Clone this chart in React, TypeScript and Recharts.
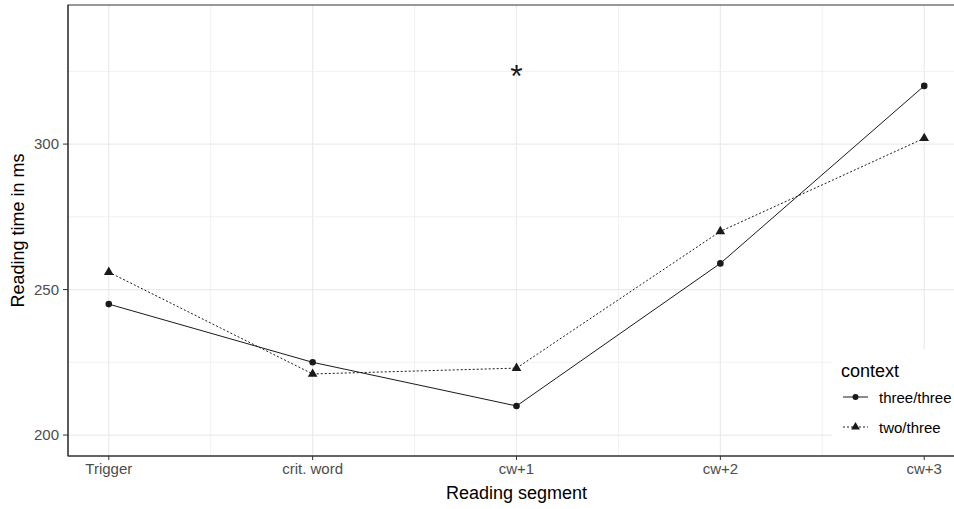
import React from 'react';
import {
  LineChart,
  Line,
  XAxis,
  YAxis,
  CartesianGrid,
  ReferenceArea,
  ReferenceDot,
  Symbols,
} from 'recharts';

const segments = ['Trigger', 'crit. word', 'cw+1', 'cw+2', 'cw+3'];
const threeThree = [245, 225, 210, 259, 320];
const twoThree = [256, 221, 223, 270, 302];
const yTicks = [200, 250, 300];
const yMinor = [225, 275, 325];
const seriesNames = ['three/three', 'two/three'];
const starSegment = 'cw+1';
const starValue = 325;

const xDomain: [number, number] = [0.8, 5.2];
const yDomain: [number, number] = [192.8, 347.8];

const data = segments.map((seg, i) => ({
  pos: i + 1,
  seg,
  three: threeThree[i],
  two: twoThree[i],
}));

const xTicks = segments.map((_, i) => i + 1);
const xMinor = segments.slice(1).map((_, i) => i + 1.5);

const FONT = '"Liberation Sans", Arial, sans-serif';
const INK = '#1a1a1a';

const Triangle = (props: any) => {
  const { cx, cy } = props;
  if (cx == null || cy == null) return null;
  return <Symbols cx={cx} cy={cy} type="triangle" size={40} fill={INK} stroke="none" />;
};

const Circle = (props: any) => {
  const { cx, cy } = props;
  if (cx == null || cy == null) return null;
  return <circle cx={cx} cy={cy} r={3.3} fill={INK} stroke="none" />;
};

const LegendBox = () => (
  <div
    style={{
      position: 'absolute',
      left: 832,
      top: 350,
      width: 130,
      height: 105,
      paddingLeft: 9,
      boxSizing: 'border-box',
      background: 'white',
      fontFamily: FONT,
    }}
  >
    <div style={{ fontSize: 18, color: '#000', paddingTop: 10, lineHeight: '22px' }}>context</div>
    {seriesNames.map((name, i) => (
      <div key={name} style={{ display: 'flex', alignItems: 'center', height: 30, marginTop: i === 0 ? 0 : 0 }}>
        <svg width={28} height={20} style={{ marginLeft: 1 }}>
          <line x1={1} x2={26} y1={10} y2={10} stroke={INK} strokeWidth={1} strokeDasharray={i === 1 ? '2 2' : undefined} />
          {i === 1 ? (
            <Symbols cx={13.5} cy={10} type="triangle" size={34} fill={INK} />
          ) : (
            <circle cx={13.5} cy={10} r={3} fill={INK} />
          )}
        </svg>
        <span style={{ fontSize: 15, color: '#000', marginLeft: 9, whiteSpace: 'nowrap' }}>{name}</span>
      </div>
    ))}
  </div>
);

const StarLabel = (props: any) => {
  const { viewBox } = props;
  const cx = viewBox.x + (viewBox.width || 0) / 2;
  const cy = viewBox.y + (viewBox.height || 0) / 2;
  return (
    <text x={cx} y={cy + 16} textAnchor="middle" fontSize={32} fontFamily={FONT} fill={INK}>
      *
    </text>
  );
};

const YTitle = (props: any) => {
  const { viewBox } = props;
  const x = viewBox.x + 18;
  const y = viewBox.y + viewBox.height / 2;
  return (
    <text x={x} y={y} textAnchor="middle" dominantBaseline="central" transform={`rotate(-90 ${x} ${y})`} fontSize={18} fontFamily={FONT} fill="#000">
      Reading time in ms
    </text>
  );
};

const XTitle = (props: any) => {
  const { viewBox } = props;
  const x = viewBox.x + viewBox.width / 2;
  const y = viewBox.y + 37;
  return (
    <text x={x} y={y} textAnchor="middle" dominantBaseline="central" fontSize={18} fontFamily={FONT} fill="#000">
      Reading segment
    </text>
  );
};

export default function App() {
  return (
    <div style={{ position: 'absolute', left: 0, top: 0, width: 954, height: 509, overflow: 'hidden', background: 'white' }}>
      <LineChart width={970} height={509} data={data} margin={{ top: 5, right: 5, bottom: 0, left: 0 }}>
        <CartesianGrid stroke="#ebebeb" strokeWidth={0.7} horizontalValues={yMinor} verticalValues={xMinor} />
        <CartesianGrid stroke="#ebebeb" strokeWidth={1.2} horizontalValues={yTicks} verticalValues={xTicks} />
        <XAxis
          dataKey="pos"
          type="number"
          domain={xDomain}
          ticks={xTicks}
          allowDataOverflow
          tickFormatter={(v: number) => segments[v - 1] ?? ''}
          height={53}
          tickSize={4}
          tickMargin={3}
          stroke="#333"
          tick={{ fill: '#4d4d4d', fontSize: 15, fontFamily: FONT }}
          label={<XTitle />}
        />
        <YAxis
          type="number"
          domain={yDomain}
          ticks={yTicks}
          allowDataOverflow
          width={68}
          tickSize={5}
          tickMargin={4}
          stroke="#333"
          tick={{ fill: '#4d4d4d', fontSize: 15, fontFamily: FONT }}
          label={<YTitle />}
        />
        <ReferenceArea
          x1={xDomain[0]}
          x2={xDomain[1]}
          y1={yDomain[0]}
          y2={yDomain[1]}
          fill="none"
          stroke="#333"
          strokeWidth={1.2}
          ifOverflow="visible"
        />
        <Line
          name={seriesNames[0]}
          dataKey="three"
          stroke={INK}
          strokeWidth={1}
          dot={<Circle />}
          activeDot={false}
          isAnimationActive={false}
        />
        <Line
          name={seriesNames[1]}
          dataKey="two"
          stroke={INK}
          strokeWidth={1}
          strokeDasharray="2 2"
          dot={<Triangle />}
          activeDot={false}
          isAnimationActive={false}
        />
        <ReferenceDot
          x={segments.indexOf(starSegment) + 1}
          y={starValue}
          r={0}
          fill="none"
          stroke="none"
          label={<StarLabel />}
        />
      </LineChart>
      <LegendBox />
    </div>
  );
}
